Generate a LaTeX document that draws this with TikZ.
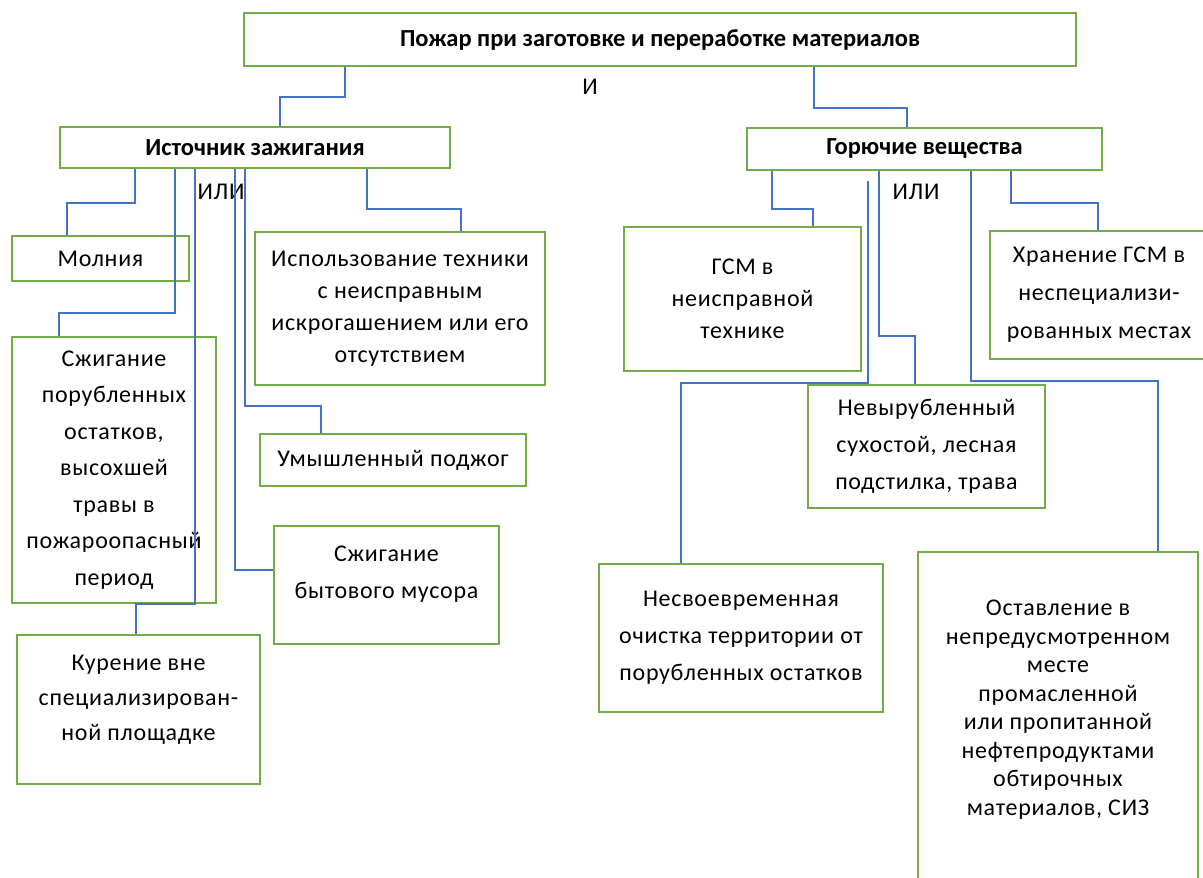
\documentclass[tikz,border=0pt]{standalone}
\usepackage{fontspec}
\setmainfont{Carlito}[LetterSpace=3,BoldFeatures={LetterSpace=0}]
\definecolor{boxgreen}{HTML}{70AD47}
\definecolor{linkblue}{HTML}{4472C4}
\tikzset{box/.style={draw=boxgreen,line width=1.8pt,align=center,inner sep=0pt,font=\fontsize{24}{35}\selectfont},
  boxsize/.style 2 args={minimum width=#1pt,minimum height=#2pt},
  head/.style={box,font=\fontsize{24.5}{28}\selectfont\bfseries},
  link/.style={draw=linkblue,line width=1.4pt},
  word/.style={inner sep=0pt,font=\fontsize{24}{26}\selectfont}}

\begin{document}
\begin{tikzpicture}[x=1pt,y=-1pt]
\useasboundingbox (0,0) rectangle (1203,878);
% headings
\node[head,boxsize={832}{53}] (fire) at (660,39.5) {Пожар при заготовке и переработке материалов};
\node[head,boxsize={390}{41}] (source) at (255,147.5) {Источник зажигания};
\node[head,boxsize={355}{42}] (fuel) at (924.5,149) {Горючие вещества};
\node[word] (and) at (590,87) {И};
\node[word] (orleft) at (221,192) {ИЛИ};
\node[word] (orright) at (916,192) {ИЛИ};
% ignition sources
\node[box,boxsize={177}{45}] (lightning) at (100.5,258.5) {Молния};
\node[box,boxsize={290}{153},font=\fontsize{24}{32}\selectfont] (machinery) at (400,308.5)
  {Использование техники\\ с неисправным\\ искрогашением или его\\ отсутствием};
\node[box,boxsize={204}{266},font=\fontsize{24}{36.5}\selectfont] (slash) at (114,470)
  {Сжигание\\ порубленных\\ остатков,\\ высохшей\\ травы в\\ пожароопасный\\ период};
\node[box,boxsize={266}{52}] (arson) at (393,460) {Умышленный поджог};
\node[box,boxsize={225}{118},font=\fontsize{24}{37}\selectfont] (rubbish) at (386.5,585)
  {Сжигание\\ бытового мусора\\[-22pt]\strut};
\node[box,boxsize={243}{149}] (smoking) at (138.5,709.5)
  {Курение вне\\ специализирован-\\ ной площадке\\[-23pt]\strut};
% combustibles
\node[box,boxsize={237}{144},font=\fontsize{24}{32}\selectfont] (fuelmach) at (742.5,299)
  {ГСМ в\\ неисправной\\ технике};
\node[box,boxsize={218}{128},font=\fontsize{24}{38}\selectfont] (storage) at (1099,295)
  {Хранение ГСМ в\\ неспециализи-\\ рованных местах};
\node[box,boxsize={237}{123},font=\fontsize{24}{37}\selectfont] (deadwood) at (926.5,446.5)
  {Невырубленный\\ сухостой, лесная\\ подстилка, трава};
\node[box,boxsize={284}{148},font=\fontsize{24}{37}\selectfont] (cleanup) at (741,638)
  {Несвоевременная\\ очистка территории от\\ порубленных остатков};
\node[box,boxsize={280}{328},font=\fontsize{24}{28.5}\selectfont] (rags) at (1058,716)
  {Оставление в\\ непредусмотренном\\ месте\\ промасленной\\ или пропитанной\\ нефтепродуктами\\ обтирочных\\ материалов, СИЗ\\[-20pt]\strut};
\coordinate (gap) at (868,181);
% connectors
\draw[link] (fire.south -| 345,0) -- (345,97) -| (source.north -| 280,0);
\draw[link] (fire.south -| 814,0) -- (814,108) -| (fuel.north -| 907,0);
\draw[link] (source.south -| 135,0) -- (135,203) -| (lightning.north -| 67,0);
\draw[link] (source.south -| 175,0) -- (175,313) -| (slash.north -| 59,0);
\draw[link] (source.south -| 195,0) -- (195,604) -| (smoking.north -| 136,0);
\draw[link] (source.south -| 235,0) |- (rubbish.west |- 0,570);
\draw[link] (source.south -| 245,0) -- (245,406) -| (arson.north -| 321,0);
\draw[link] (source.south -| 367,0) -- (367,209) -| (machinery.north -| 461,0);
\draw[link] (fuel.south -| 772,0) -- (772,209) -| (fuelmach.north -| 813,0);
\draw[link] (fuel.south -| 879,0) -- (879,336) -| (deadwood.north -| 915,0);
\draw[link] (gap) -- (868,383) -| (cleanup.north -| 681,0);
\draw[link] (fuel.south -| 971,0) -- (971,381) -| (rags.north -| 1158,0);
\draw[link] (fuel.south -| 1011,0) -- (1011,203) -| (storage.north -| 1098,0);
\end{tikzpicture}
\end{document}
